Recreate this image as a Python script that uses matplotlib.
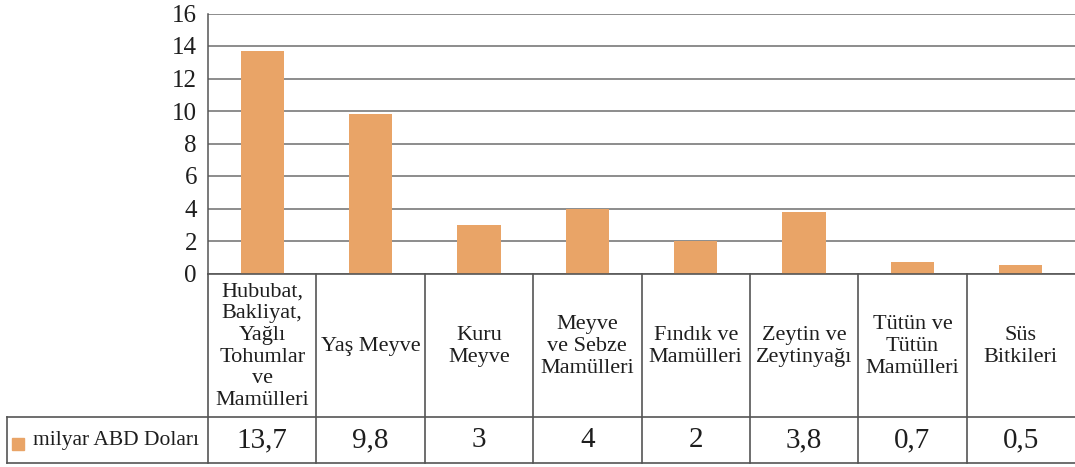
import matplotlib
matplotlib.use("Agg")
import matplotlib.pyplot as plt
from matplotlib.lines import Line2D
from matplotlib.patches import Rectangle
import matplotlib.transforms as mtransforms

plt.rcParams['font.family'] = ['Liberation Serif', 'DejaVu Serif']

categories = [
    "Hububat,\nBakliyat,\nYağlı\nTohumlar\nve\nMamülleri",
    "Yaş Meyve",
    "Kuru\nMeyve",
    "Meyve\nve Sebze\nMamülleri",
    "Fındık ve\nMamülleri",
    "Zeytin ve\nZeytinyağı",
    "Tütün ve\nTütün\nMamülleri",
    "Süs\nBitkileri",
]
values = [13.7, 9.8, 3, 4, 2, 3.8, 0.7, 0.5]
value_labels = ["13,7", "9,8", "3", "4", "2", "3,8", "0,7", "0,5"]
series_name = "milyar ABD Doları"
yticks = [0, 2, 4, 6, 8, 10, 12, 14, 16]

W, H = 1075, 467
fig = plt.figure(figsize=(W / 100, H / 100), dpi=100)

def fx(px):
    return px / W

def fy(py):
    return 1 - py / H

bar_color = "#E9A467"
grid_color = "#6e6e6e"
line_color = "#555555"
text_color = "#1e1e1e"

ax_left, ax_top, ax_bottom = 208, 13.5, 273.5
ax = fig.add_axes([fx(ax_left), fy(ax_bottom), 1 - fx(ax_left), fy(ax_top) - fy(ax_bottom)])

x = list(range(len(categories)))
ax.bar(x, values, width=0.4, color=bar_color, zorder=3)
ax.set_xlim(-0.5, len(categories) - 0.5)
ax.set_ylim(0, 16)
ax.set_yticks(yticks)
ax.set_yticklabels([str(t) for t in yticks], fontsize=18)
ax.tick_params(axis='y', length=0, pad=8, colors=text_color)
ax.set_xticks([])
ax.yaxis.grid(True, color=grid_color, linewidth=1.1, zorder=0)
for side in ("top", "right", "bottom"):
    ax.spines[side].set_visible(False)
ax.spines["left"].set_color(line_color)
ax.spines["left"].set_linewidth(1.1)

# Data table beneath the plot
trans = mtransforms.blended_transform_factory(ax.transData, fig.transFigure)
row1_top, row1_bot, row2_bot = 273.5, 417, 463
legend_left = 6.5

# horizontal rules
fig.add_artist(Line2D([fx(ax_left), 1], [fy(row1_top)] * 2, color=line_color, lw=1.2))
fig.add_artist(Line2D([fx(legend_left), 1], [fy(row1_bot)] * 2, color=line_color, lw=1.2))
fig.add_artist(Line2D([fx(legend_left), 1], [fy(row2_bot)] * 2, color=line_color, lw=1.2))
fig.add_artist(Line2D([fx(legend_left)] * 2, [fy(row1_bot), fy(row2_bot)], color=line_color, lw=1.2))

# vertical rules between columns
for i in range(len(categories)):
    b = i - 0.5
    fig.add_artist(Line2D([b, b], [fy(row1_top), fy(row2_bot)], color=line_color, lw=1.2,
                          transform=trans))

for i, (cat, lab) in enumerate(zip(categories, value_labels)):
    fig.text(i, fy((row1_top + row1_bot) / 2 + 1), cat, transform=trans, ha='center', va='center',
             fontsize=16, linespacing=1.2, color=text_color)
    fig.text(i, fy((row1_bot + row2_bot) / 2), lab, transform=trans, ha='center', va='center',
             fontsize=21, color=text_color)

# legend key
fig.add_artist(Rectangle((fx(12), fy(450)), fx(12), fy(438) - fy(450),
                         transform=fig.transFigure, color=bar_color))
fig.text(fx(33), fy((row1_bot + row2_bot) / 2), series_name, ha='left', va='center',
         fontsize=15.5, color=text_color)

fig.savefig("out.png", dpi=100)
